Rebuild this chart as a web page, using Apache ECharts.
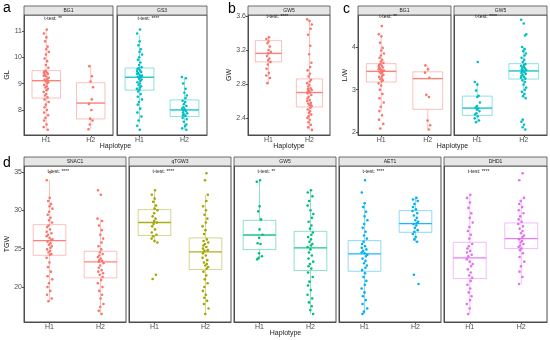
<!DOCTYPE html>
<html><head><meta charset="utf-8">
<script src="https://cdn.jsdelivr.net/npm/echarts@6/dist/echarts.min.js"></script>
<style>html,body{margin:0;padding:0;background:#fff}#c{width:550px;height:340px}</style>
</head><body><div id="c"></div>
<script>
// ---------------- DATA ----------------
const haplotypes = ['H1', 'H2'];

// Panel a : GL
const aTicks = [8, 9, 10, 11];
const aBG1_H1 = [11.05,10.9,10.75,10.6,10.4,10.3,10.2,10.1,9.95,9.85,9.7,9.6,
  9.48,9.45,9.42,9.4,9.37,9.33,9.3,9.27,9.22,9.18,9.15,9.12,
  9.08,9.05,9.0,8.95,8.9,8.85,8.8,8.75,8.68,8.6,8.55,8.48,
  8.4,8.3,8.2,8.1,8.0,7.9,7.8,7.7,7.6,7.45,7.35,7.25];
const aBG1_H2 = [9.66,9.28,9.08,8.86,8.40,8.23,8.0,7.67,7.6,7.45,7.27];
const aGS3_H1 = [11.05,10.9,10.6,10.45,10.3,10.2,10.1,10.0,9.9,9.8,9.7,9.62,
  9.58,9.55,9.5,9.47,9.44,9.4,9.37,9.33,9.3,9.28,9.26,
  9.22,9.18,9.15,9.1,9.05,9.0,8.95,8.9,8.85,8.8,8.77,
  8.7,8.6,8.5,8.4,8.3,8.2,8.05,7.9,7.75,7.6,7.4,7.25];
const aGS3_H2 = [9.25,9.2,9.0,8.8,8.65,8.55,8.45,8.35,8.3,8.22,8.15,8.1,8.05,8.02,
  7.98,7.95,7.9,7.87,7.83,7.8,7.77,7.7,7.65,7.55,7.45,7.38,7.3,7.25];
// box stats: [lower whisker, Q1, median, Q3, upper whisker] for H1, H2
const aBG1_box = [[7.25,8.45,9.11,9.49,11.05],[7.27,7.66,8.26,9.03,9.66]];
const aGS3_box = [[7.49,8.75,9.24,9.59,10.85],[7.25,7.75,8.0,8.38,9.25]];

// Panel b : GW
const bTicks = [2.4, 2.8, 3.2, 3.6];
const bGW5_H1 = [3.35,3.33,3.3,3.28,3.24,3.2,3.18,3.16,3.13,3.1,3.08,3.06,3.03,2.98,2.93,2.9,2.87,2.81];
const bGW5_H2 = [3.56,3.54,3.5,3.45,3.38,3.25,3.15,3.05,3.0,2.96,2.92,2.89,
  2.85,2.83,2.81,2.79,2.77,2.75,2.74,2.73,2.72,2.71,2.7,
  2.69,2.67,2.65,2.63,2.61,2.6,2.58,2.57,2.56,2.55,2.54,
  2.52,2.5,2.48,2.46,2.44,2.42,2.4,2.38,2.35,2.32,2.29,2.26];
const bGW5_box = [[2.81,3.06,3.16,3.31,3.35],[2.26,2.53,2.70,2.86,3.56]];

// Panel c : L/W
const cTicks = [2, 3, 4];
const cBG1_H1 = [4.49,4.3,4.25,4.1,3.98,3.92,3.85,3.8,3.75,3.7,3.66,3.63,
  3.6,3.58,3.56,3.54,3.52,3.5,3.48,3.46,3.45,3.44,
  3.42,3.4,3.38,3.35,3.32,3.3,3.27,3.25,3.22,3.2,
  3.15,3.1,3.0,2.9,2.8,2.7,2.6,2.5,2.4,2.3,2.2,2.09];
const cBG1_H2 = [3.57,3.48,3.4,3.28,2.88,2.83,2.28,2.17,2.07];
const cGW5_H1 = [3.65,3.18,3.12,2.98,2.86,2.83,2.7,2.62,2.58,2.56,2.53,2.5,2.45,2.42,2.38,2.33,2.28,2.24];
const cGW5_H2 = [4.64,4.55,4.3,4.27,4.0,3.95,3.9,3.85,3.8,3.75,3.7,3.65,
  3.6,3.58,3.56,3.54,3.52,3.5,3.48,3.46,3.45,
  3.43,3.41,3.39,3.37,3.35,3.32,3.3,3.28,3.26,
  3.22,3.18,3.12,3.05,3.0,2.95,2.9,2.85,2.8,2.3,2.25,2.18,2.12,2.07];
const cBG1_box = [[2.5,3.18,3.43,3.61,4.25],[2.07,2.54,3.26,3.42,3.57]];
const cGW5_box = [[2.24,2.40,2.57,2.85,3.18],[2.8,3.25,3.44,3.61,4.0]];

// Panel d : TGW
const dTicks = [20, 25, 30, 35];
const dSNAC1_H1 = [34.9,33.9,31.6,31.2,30.8,30.5,30.2,29.8,29.4,29.0,28.7,28.4,
  28.0,27.8,27.5,27.2,27.0,26.8,26.6,26.4,26.2,26.1,
  25.9,25.7,25.5,25.3,25.1,24.9,24.7,24.5,24.3,24.2,
  23.8,23.2,22.6,22.0,21.4,21.0,20.5,20.0,19.5,19.0,18.5,18.15];
const dSNAC1_H2 = [32.6,32.0,28.9,28.6,28.0,27.4,26.8,26.3,25.8,25.3,24.9,
  24.5,24.3,24.1,23.9,23.7,23.5,23.4,23.3,
  23.1,22.8,22.5,22.2,22.0,21.8,21.6,21.3,
  20.9,20.5,20.0,19.5,19.0,18.5,17.8,17.4,16.9,16.5];
const dqTGW3_H1 = [32.6,32.0,31.5,31.1,30.6,30.2,30.0,29.6,29.2,28.9,28.6,28.4,28.2,27.9,27.5,27.1,26.8,26.6,26.3,26.0,25.8,21.6,21.05];
const dqTGW3_H2 = [34.8,33.9,32.0,31.2,30.5,30.0,29.4,28.9,28.4,27.9,27.4,26.9,
  26.2,26.0,25.8,25.6,25.4,25.2,25.0,24.8,24.7,
  24.4,24.1,23.8,23.5,23.2,23.0,22.8,22.6,22.4,
  22.0,21.5,21.0,20.5,20.0,19.5,19.0,18.6,18.2,17.8,17.2,16.5];
const dGW5_H1 = [33.9,33.7,30.5,29.85,28.8,27.5,26.8,26.4,25.7,25.6,24.4,24.0,23.8,23.6];
const dGW5_H2 = [32.6,32.3,31.8,31.2,30.6,30.0,29.5,29.0,28.5,28.0,27.6,
  27.1,26.8,26.5,26.2,25.9,25.6,25.4,25.2,
  24.9,24.5,24.1,23.7,23.3,23.0,22.7,22.4,
  21.9,21.3,20.7,20.2,19.6,19.0,18.5,18.0,17.5,17.0,16.5];
const dAET1_H1 = [33.9,32.3,30.9,30.4,29.8,29.2,28.7,28.2,27.7,27.2,26.7,26.3,
  25.9,25.6,25.3,25.1,24.9,24.7,24.5,24.4,
  24.2,24.0,23.7,23.4,23.1,22.8,22.5,22.2,
  21.8,21.3,20.8,20.3,19.8,19.3,18.8,18.3,17.8,17.2,16.8,16.5];
const dAET1_H2 = [31.6,31.4,31.2,30.8,30.4,30.1,29.9,29.6,29.3,29.0,28.7,28.5,28.3,28.2,28.0,27.7,27.4,27.2,26.9,26.5,26.2,25.9,21.6,20.4];
const dDHD1_H1 = [32.0,31.6,31.0,30.3,29.6,29.0,28.4,27.8,27.3,26.8,26.3,
  25.6,25.3,25.0,24.7,24.5,24.2,24.0,
  23.6,23.3,23.0,22.7,22.3,21.9,21.5,21.2,
  20.8,20.3,19.8,19.3,18.8,18.3,17.8,17.2,16.5];
const dDHD1_H2 = [34.8,33.9,31.6,31.2,30.8,30.4,30.0,29.6,29.2,28.8,28.5,
  28.2,27.9,27.6,27.3,27.0,26.7,26.5,
  26.2,26.0,25.8,25.6,25.4,25.2,25.05,
  24.8,24.4,23.9,23.3,22.7,22.0,21.3,20.4];
const dSNAC1_box = [[18.15,24.13,26.04,28.12,33.9],[16.5,21.19,23.27,24.65,28.9]];
const dqTGW3_box = [[25.8,26.7,28.4,30.07,32.6],[16.5,22.27,24.57,26.39,32.0]];
const dGW5_box = [[23.57,24.87,26.78,28.68,33.9],[16.5,22.14,25.09,27.25,32.6]];
const dAET1_box = [[16.5,22.05,24.31,26.04,30.9],[25.82,27.12,28.25,29.94,31.59]];
const dDHD1_box = [[16.5,21.1,23.79,25.82,32.0],[20.4,25.0,26.3,28.34,31.6]];

// ---------------- STYLE / LAYOUT ----------------
const FONT = '"Liberation Sans", Arial, Helvetica, sans-serif';
const RED = '#F8766D', CYAN = '#00BFC4', OLIVE = '#A3A500', GREEN = '#00BF7D', BLUE = '#00B0F6', PINK = '#E76BF3';

const panels = [
  {letter:'a', yName:'GL', yMin:7.05, yMax:11.6, ticks:aTicks, dec:0, top:15, height:120,
   cols:[[24,89],[117,90]], nameGap:5, sigOff:3.3, letterPos:[3,15], hapY:146.5,
   facets:[{gene:'BG1', sig:'**', color:RED, pts:[aBG1_H1,aBG1_H2], box:aBG1_box},
           {gene:'GS3', sig:'****', color:CYAN, pts:[aGS3_H1,aGS3_H2], box:aGS3_box}]},
  {letter:'b', yName:'GW', yMin:2.2, yMax:3.612, ticks:bTicks, dec:1, top:15, height:120,
   cols:[[248,82]], nameGap:6, sigOff:1.5, letterPos:[228,16], hapY:146.5,
   facets:[{gene:'GW5', sig:'****', color:RED, pts:[bGW5_H1,bGW5_H2], box:bGW5_box}]},
  {letter:'c', yName:'L/W', yMin:1.94, yMax:4.75, ticks:cTicks, dec:0, top:15, height:120,
   cols:[[358,93],[454,93]], nameGap:2, sigOff:1.5, letterPos:[343,16], hapY:146.5,
   facets:[{gene:'BG1', sig:'**', color:RED, pts:[cBG1_H1,cBG1_H2], box:cBG1_box},
           {gene:'GW5', sig:'****', color:CYAN, pts:[cGW5_H1,cGW5_H2], box:cGW5_box}]},
  {letter:'d', yName:'TGW', yMin:15.45, yMax:35.75, ticks:dTicks, dec:0, top:166, height:156,
   cols:[[24,102],[129,102],[234,102],[339,102],[444,103]], nameGap:5, sigOff:6, letterPos:[3,170], hapY:333,
   facets:[{gene:'SNAC1', sig:'****', color:RED, pts:[dSNAC1_H1,dSNAC1_H2], box:dSNAC1_box},
           {gene:'qTGW3', sig:'****', color:OLIVE, pts:[dqTGW3_H1,dqTGW3_H2], box:dqTGW3_box},
           {gene:'GW5', sig:'**', color:GREEN, pts:[dGW5_H1,dGW5_H2], box:dGW5_box},
           {gene:'AET1', sig:'****', color:BLUE, pts:[dAET1_H1,dAET1_H2], box:dAET1_box},
           {gene:'DHD1', sig:'****', color:PINK, pts:[dDHD1_H1,dDHD1_H2], box:dDHD1_box}]}
];

function rgba(hex, a){
  const n = parseInt(hex.slice(1),16);
  return 'rgba(' + ((n>>16)&255) + ',' + ((n>>8)&255) + ',' + (n&255) + ',' + a + ')';
}
// deterministic horizontal spread of the points (visual jitter only)
function jitter(i){ return ((Math.imul(i + 11, 2654435761) >>> 0) % 1000) / 500 - 1; }

function boxRenderer(color){
  const light = rgba(color, 0.45), mid = rgba(color, 0.9);
  return function(params, api){
    const c = api.value(0);
    const pMin = api.coord([c, api.value(1)]), pQ1 = api.coord([c, api.value(2)]),
          pMd = api.coord([c, api.value(3)]), pQ3 = api.coord([c, api.value(4)]),
          pMax = api.coord([c, api.value(5)]);
    const band = api.size([1, 0])[0];
    const hw = band * 0.32, x = pMd[0];
    return {type:'group', children:[
      {type:'line', shape:{x1:x, y1:pQ3[1], x2:x, y2:pMax[1]}, style:{stroke:light, lineWidth:1}},
      {type:'line', shape:{x1:x, y1:pQ1[1], x2:x, y2:pMin[1]}, style:{stroke:light, lineWidth:1}},
      {type:'rect', shape:{x:x-hw, y:pQ3[1], width:2*hw, height:pQ1[1]-pQ3[1]}, style:{fill:'none', stroke:light, lineWidth:1}},
      {type:'line', shape:{x1:x-hw, y1:pMd[1], x2:x+hw, y2:pMd[1]}, style:{stroke:mid, lineWidth:1.4}}
    ]};
  };
}
function pointRenderer(color){
  return function(params, api){
    const p = api.coord([api.value(0), api.value(1)]);
    const band = api.size([1, 0])[0];
    return {type:'circle', shape:{cx:p[0] + jitter(params.dataIndex) * band * 0.06, cy:p[1], r:1.3}, style:{fill:color}};
  };
}

const grids = [], xAxes = [], yAxes = [], series = [], graphics = [];
let gi = 0;
panels.forEach(p => {
  p.facets.forEach((f, k) => {
    const left = p.cols[k][0], width = p.cols[k][1];
    const first = k === 0;
    grids.push({left:left, top:p.top, width:width, height:p.height, show:true, borderColor:'#4d4d4d', borderWidth:1, backgroundColor:'#fff', containLabel:false});
    xAxes.push({type:'category', gridIndex:gi, data:haplotypes, boundaryGap:true,
      axisLine:{show:true, lineStyle:{color:'#4d4d4d'}},
      axisTick:{show:true, alignWithLabel:true, length:2, lineStyle:{color:'#4d4d4d'}},
      axisLabel:{fontSize:7, color:'#4d4d4d', margin:2, fontFamily:FONT},
      splitLine:{show:false}});
    yAxes.push({type:'value', gridIndex:gi, min:p.yMin, max:p.yMax,
      axisLine:{show:true, lineStyle:{color:'#4d4d4d'}},
      axisTick:{show:first, length:2, customValues:p.ticks, lineStyle:{color:'#4d4d4d'}},
      axisLabel:{show:first, customValues:p.ticks, fontSize:7, color:'#4d4d4d', margin:2, fontFamily:FONT,
        formatter: v => p.dec ? Number(v).toFixed(p.dec) : String(v)},
      splitLine:{show:false},
      name: first ? p.yName : '', nameLocation:'middle', nameGap:p.nameGap, nameRotate:90,
      nameTextStyle:{fontSize:7, color:'#1a1a1a', fontFamily:FONT}});
    series.push({type:'custom', xAxisIndex:gi, yAxisIndex:gi, renderItem:boxRenderer(f.color),
      encode:{x:0, y:[1,2,3,4,5]}, data:f.box.map((b, i) => [i].concat(b)), z:2, silent:true});
    const pts = [];
    f.pts.forEach((arr, i) => arr.forEach(v => pts.push([i, v])));
    series.push({type:'custom', xAxisIndex:gi, yAxisIndex:gi, renderItem:pointRenderer(f.color),
      encode:{x:0, y:1}, data:pts, z:3, silent:true});
    // strip
    graphics.push({type:'rect', shape:{x:left, y:p.top-9, width:width, height:9}, style:{fill:'#e6e6e6', stroke:'#4d4d4d', lineWidth:0.8}, z:10});
    graphics.push({type:'text', x:left + width/2, y:p.top-4.3, style:{text:f.gene, fontSize:5, fill:'#1a1a1a', align:'center', verticalAlign:'middle', fontFamily:FONT}, z:11});
    graphics.push({type:'text', x:left + width/4 - 2, y:p.top + p.sigOff, style:{text:'t-test: ' + f.sig, fontSize:5, fill:'#1a1a1a', align:'left', verticalAlign:'middle', fontFamily:FONT}, z:11});
    gi++;
  });
  const l0 = p.cols[0][0], lastC = p.cols[p.cols.length-1];
  graphics.push({type:'text', x:(l0 + lastC[0] + lastC[1]) / 2, y:p.hapY, style:{text:'Haplotype', fontSize:7, fill:'#1a1a1a', align:'center', verticalAlign:'middle', fontFamily:FONT}, z:11});
  graphics.push({type:'text', x:p.letterPos[0], y:p.letterPos[1], style:{text:p.letter, fontSize:14, fill:'#000', align:'left', verticalAlign:'bottom', fontFamily:FONT}, z:11});
});

const chart = echarts.init(document.getElementById('c'), null, {renderer:'canvas'});
chart.setOption({
  animation:false,
  backgroundColor:'#fff',
  textStyle:{fontFamily:FONT},
  grid:grids, xAxis:xAxes, yAxis:yAxes, series:series, graphic:graphics
});
</script>
</body></html>
